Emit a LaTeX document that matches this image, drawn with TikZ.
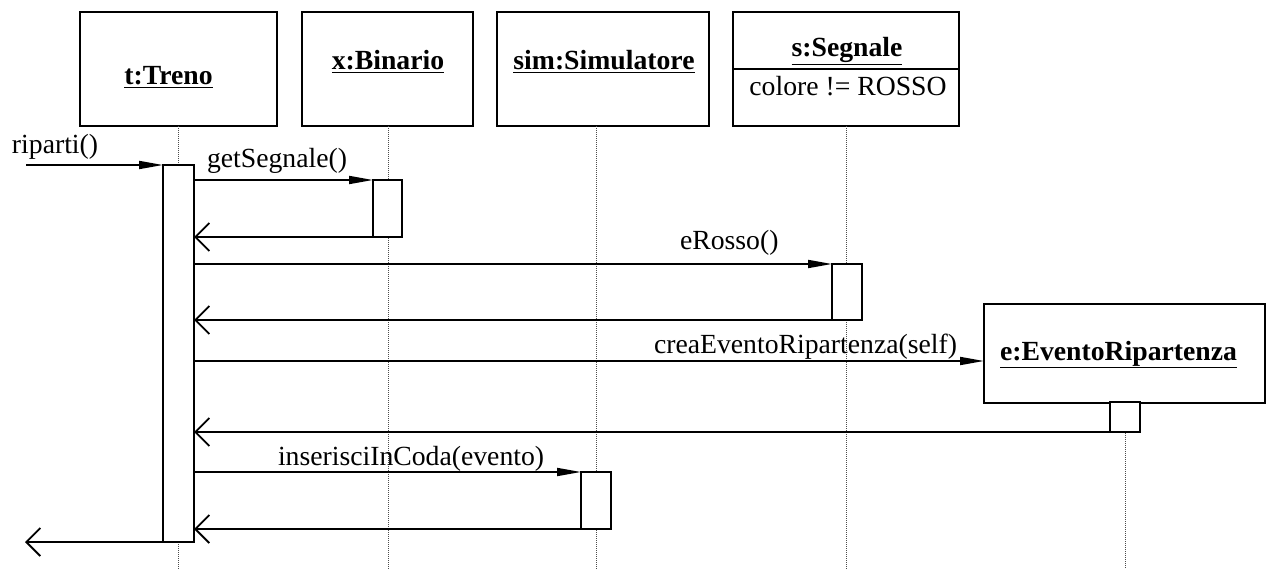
\documentclass[tikz,border=0pt]{standalone}
\usepackage{fontspec}
\setmainfont{Liberation Serif}
\usetikzlibrary{arrows.meta}
\begin{document}
\begin{tikzpicture}[x=1pt,y=-1pt,
  every node/.style={inner sep=0pt, outer sep=0pt},
  txt/.style={font=\fontsize{27.7pt}{33pt}\selectfont},
  objbox/.style={draw, line width=1.8pt, fill=white, rectangle},
  actbox/.style={draw, line width=1.8pt, fill=white, rectangle},
  lifeline/.style={draw=black!70, line width=0.8pt, dash pattern=on 1pt off 1pt},
  callmsg/.style={line width=1.8pt, -{Triangle[length=24pt,width=8pt]}},
  retmsg/.style={line width=1.8pt, -{Straight Barb[length=14pt,width=28pt]}},
]
\useasboundingbox (0,0) rectangle (1266,569);

% object boxes
\node[objbox, minimum width=197pt, minimum height=114pt] (treno) at (178.5,69) {};
\node[objbox, minimum width=171pt, minimum height=114pt] (binario) at (387.5,69) {};
\node[objbox, minimum width=212pt, minimum height=114pt] (sim) at (603,69) {};
\node[objbox, minimum width=226pt, minimum height=114pt] (segnale) at (846,69) {};
\node[objbox, minimum width=281pt, minimum height=99pt] (evento) at (1124.5,353.5) {};

% lifeline bottoms
\coordinate (trenoEnd) at (178,569);
\coordinate (binarioEnd) at (388,569);
\coordinate (simEnd) at (596,569);
\coordinate (segnaleEnd) at (846,569);
\coordinate (eventoEnd) at (1125,569);

\draw[lifeline] (trenoEnd |- treno.south) -- (trenoEnd);
\draw[lifeline] (binarioEnd |- binario.south) -- (binarioEnd);
\draw[lifeline] (simEnd |- sim.south) -- (simEnd);
\draw[lifeline] (segnaleEnd |- segnale.south) -- (segnaleEnd);
\draw[lifeline] (eventoEnd |- evento.south) -- (eventoEnd);

% titles
\node[txt, anchor=base] (trenoT) at (168.5,85) {\underline{\textbf{t:Treno}}};
\node[txt, anchor=base] (binarioT) at (388,70) {\underline{\textbf{x:Binario}}};
\node[txt, anchor=base] (simT) at (604,70) {\underline{\textbf{sim:Simulatore}}};
\node[txt, anchor=base] (segnaleT) at (847,57) {\underline{\textbf{s:Segnale}}};
\draw[line width=1.8pt] (segnale.west |- 0,69) -- (segnale.east |- 0,69);
\node[txt, anchor=base] (segnaleA) at (848,96) {colore != ROSSO};
\node[txt, anchor=base] (eventoT) at (1118.5,360) {\underline{\textbf{e:EventoRipartenza}}};

% activations
\node[actbox, minimum width=31pt, minimum height=377pt] (tact) at (178.5,353.5) {};
\node[actbox, minimum width=29pt, minimum height=57pt] (bact) at (387.5,208.5) {};
\node[actbox, minimum width=30pt, minimum height=56pt] (sact) at (847,292) {};
\node[actbox, minimum width=30pt, minimum height=30pt] (eact) at (1125,417) {};
\node[actbox, minimum width=30pt, minimum height=57pt] (simact) at (596,500.5) {};

% messages
\coordinate (inStart) at (26,165);
\coordinate (outEnd) at (25,542);
\draw[callmsg] (inStart) -- (tact.north west);
\node[txt, anchor=base west] (ripartiL) at (12,154) {riparti()};

\draw[callmsg] (tact.east |- bact.north) -- (bact.north west);
\node[txt, anchor=base west] (getL) at (207,168) {getSegnale()};
\draw[retmsg] (bact.south west) -- (tact.east |- bact.south);

\draw[callmsg] (tact.east |- sact.north) -- (sact.north west);
\node[txt, anchor=base west] (rossoL) at (680,250) {eRosso()};
\draw[retmsg] (sact.south west) -- (tact.east |- sact.south);

\draw[callmsg] (tact.east |- 0,361) -- ([yshift=-7.5pt]evento.west);
\node[txt, anchor=base east] (creaL) at (957,353) {creaEventoRipartenza(self)};
\draw[retmsg] (eact.south west) -- (tact.east |- eact.south);

\draw[callmsg] (tact.east |- simact.north) -- (simact.north west);
\node[txt, anchor=base west] (insL) at (278,465) {inserisciInCoda(evento)};
\draw[retmsg] (simact.south west) -- (tact.east |- simact.south);

\draw[retmsg] (tact.south west) -- (outEnd);
\end{tikzpicture}
\end{document}
